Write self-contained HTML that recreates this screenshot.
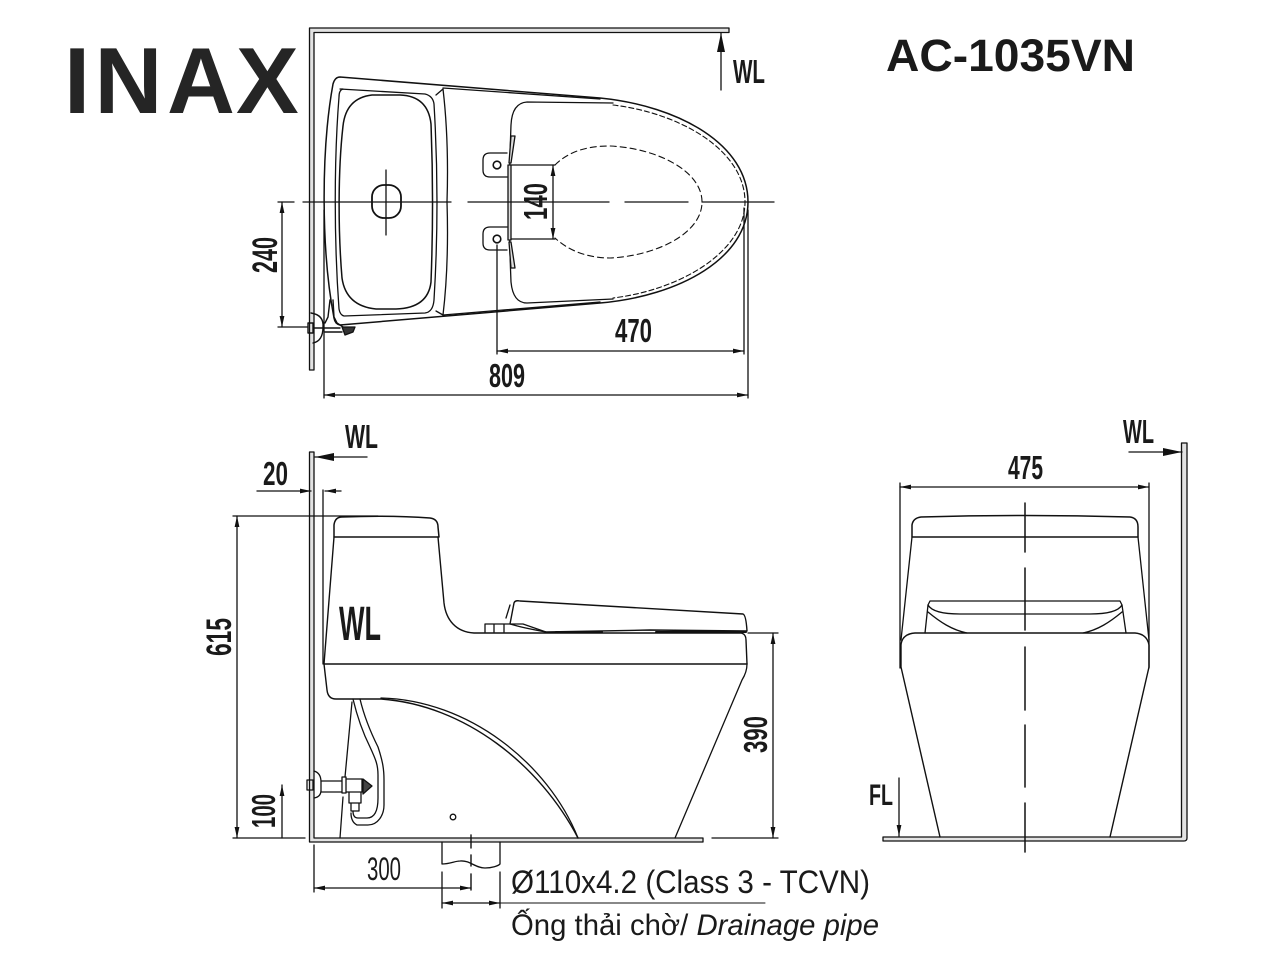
<!DOCTYPE html>
<html><head><meta charset="utf-8"><title>AC-1035VN</title>
<style>html,body{margin:0;padding:0;background:#fff}svg{display:block}text{font-family:"Liberation Sans",sans-serif;fill:#1a1a1a}</style></head>
<body>
<svg width="1280" height="960" viewBox="0 0 1280 960" xmlns="http://www.w3.org/2000/svg">
<defs>
<marker id="a" markerUnits="userSpaceOnUse" markerWidth="12" markerHeight="8" refX="11" refY="3" orient="auto-start-reverse"><path d="M0,0.6L11,3L0,5.4z" fill="#111"/></marker>
<marker id="b" markerUnits="userSpaceOnUse" markerWidth="20" markerHeight="10" refX="19" refY="4" orient="auto-start-reverse"><path d="M0,0L19,4L0,8z" fill="#111"/></marker>
</defs>
<rect width="1280" height="960" fill="#fff"/>

<!-- titles -->
<text x="64 94.5 167 236" y="113" font-size="94" font-weight="bold" style="fill:#252525">INAX</text>
<text x="886" y="71" font-size="45" font-weight="bold" textLength="249" lengthAdjust="spacingAndGlyphs">AC-1035VN</text>

<g fill="none" stroke="#111" stroke-width="1.3" stroke-linejoin="round" stroke-linecap="round">
<!-- TOP VIEW walls -->
<path d="M309.5,28H729V32.5H314V370H309.5Z" fill="#e2e2e2" stroke-width="1.3"/>
<path d="M721,90V33" marker-end="url(#b)"/>
<!-- body -->
<path d="M333,84Q335,77 340,77L600,98C680,106 748,145 748,202C748,258 680,296 600,303L340,325Q335,324 334,318C321,250 321,150 333,84Z" stroke-width="1.5"/>
<!-- tank -->
<path d="M340,89L425,94Q433,96 434,104C438,170 438,235 434,300Q433,312 425,313L344,316Q340,315 339,309C334,240 334,160 339,97Q339,90 343,89Z"/>
<path d="M372,95H400Q428,96 431,124C433,175 433,230 431,282Q428,308 396,309H376Q346,306 342,278C338,230 338,170 343,126Q346,98 372,95Z" stroke-width="1.5"/>
<path d="M436,95L443,89Q449,140 447,202Q449,265 443,315L436,311"/>
<path d="M443,88L600,99M443,315L600,302"/>
<!-- seat -->
<path d="M613,103L527,102Q512,103 511,125C509,175 509,235 511,282Q513,303 527,303L613,299"/>
<path d="M613,105C680,113 745,150 745,202C745,252 680,290 613,298" stroke-dasharray="5 3" stroke-width="1.1"/>
<path d="M555,165C570,150 590,146 610,146C655,148 702,170 702,202C702,234 655,256 610,258C590,258 570,252 555,238" stroke-dasharray="6 4" stroke-width="1.1"/>
<!-- hinges -->
<path d="M507,153H490Q483,153 483,160V170Q483,177 490,177H507M507,227H490Q483,227 483,234V243Q483,250 490,250H507"/>
<circle cx="497" cy="165" r="3.8" stroke-width="1.6"/><circle cx="497" cy="239" r="3.8" stroke-width="1.6"/>
<path d="M508,165H511V240H508Z" fill="#ddd"/>
<path d="M511,136L515,136L511,163L509,163ZM511,268L515,268L511,242L509,242Z" fill="#ddd"/>
<path d="M511,165H555M511,239H555"/>
<path d="M553,165V239" marker-start="url(#a)" marker-end="url(#a)"/>
<!-- center lines -->
<path d="M278,202H294M303,202H451M468,202H609M625,202H688M702,202H774M386,170V235"/>
<rect x="372" y="185" width="29" height="33" rx="12" stroke-width="1.8"/>
<!-- tap top -->
<path d="M311,313Q324,315 323,327Q323,341 313,343M308,323H313V333H308ZM313,328H340M330,300L328,317L325,323M333,300L334,317L337,323L343,327M325,332H342" stroke-width="1.4"/>
<path d="M342,327H355L353,332L345,335Z" fill="#333"/>
<!-- top dims -->
<path d="M282,202V327" marker-start="url(#a)" marker-end="url(#a)"/>
<path d="M278,327H308M497,245V354M744,208V354M324,210V398M748,210V398"/>
<path d="M497,351H744" marker-start="url(#a)" marker-end="url(#a)"/>
<path d="M324,395H748" marker-start="url(#a)" marker-end="url(#a)"/>

<!-- SIDE VIEW -->
<path d="M309.5,452H314V838H703V842H309.5Z" fill="#e2e2e2" stroke-width="1.3"/>
<path d="M367,457H315" marker-end="url(#b)"/>
<path d="M257,491H311" marker-end="url(#a)"/>
<path d="M341,491H325" marker-end="url(#a)"/>
<path d="M323,490V664"/>
<path d="M233,516H378M233,838H305"/>
<path d="M237,516V838" marker-start="url(#a)" marker-end="url(#a)"/>
<path d="M282,838V785" marker-end="url(#a)"/>
<!-- lid + tank -->
<path d="M334,537V525Q335,517 342,517Q390,515 430,518Q438,519 438,527L439,537Z" stroke-width="1.5"/>
<path d="M334,537L324,664M438,537L444,603C446,620 456,632 474,633H741Q746,634 746,640L747,664" stroke-width="1.4"/>
<path d="M324,664H747" stroke-width="1.4"/>
<path d="M324,664L327,690Q328,699 336,699H381C465,705 540,765 578,838" stroke-width="1.4"/>
<path d="M381,698C468,700 548,763 578,838"/>
<path d="M747,664Q747,672 742,680L675,838" stroke-width="1.3"/>
<path d="M352,702L345,777M343,797L340,838"/>
<!-- hose -->
<path d="M353,699C358,720 365,737 370,747C376,760 378,765 378,775V798C378,812 374,818 367,818H358Q353,818 353,811"/>
<path d="M360,699C365,720 373,737 378,747C383,762 384,770 384,780V805C384,815 378,825 368,825H357Q351,822 351,813"/>
<!-- valve -->
<path d="M314,771Q321,773 321,782V790Q321,797 314,798M307,780H313V790H307ZM321,781H342V792H321ZM342,777H346V793H342ZM346,779H362V792H346ZM349,792H361V803H349ZM351,803H359V811H351Z"/>
<path d="M363,779L372,786L363,794Z" fill="#444"/>
<circle cx="453" cy="817" r="2.8"/>
<!-- seat side -->
<path d="M510,624L514,603Q515,600 520,601L743,614Q746,615 747,631L650,630L546,632C535,630 520,627 510,624Z" stroke-width="1.4"/>
<path d="M485,632V624H504V632M494,624V632M504,624H523L546,632M506,618L510,605"/>
<path d="M556,632H602M656,632H746" stroke-width="2"/>
<!-- drain -->
<path d="M442,842V864C450,864 455,861 460,861C470,860 475,868 485,868C492,868 498,866 500,864V842"/>
<path d="M471,835V848M471,855V866M471,874V890" stroke-width="1.4"/>
<!-- side dims -->
<path d="M773,633V838" marker-start="url(#a)" marker-end="url(#a)"/>
<path d="M748,633H778M712,838H778"/>
<path d="M314,845V892M442,872V908M500,872V908"/>
<path d="M314,888H471" marker-start="url(#a)" marker-end="url(#a)"/>
<path d="M442,903H500" marker-start="url(#a)" marker-end="url(#a)"/>
<path d="M500,903H765" stroke-width="1"/>

<!-- FRONT VIEW -->
<path d="M1181.5,443H1187V838Q1187,841 1184,841H883V837H1181.5Z" fill="#e2e2e2" stroke-width="1.3"/>
<path d="M1129,452H1182" marker-end="url(#b)"/>
<path d="M900,487H1149" marker-start="url(#a)" marker-end="url(#a)"/>
<path d="M900,483V668M1149,483V668"/>
<path d="M1025,503V552M1025,568V630M1025,647V710M1025,725V787M1025,803V852" stroke-width="1.5"/>
<path d="M912,537V525Q913,518 921,517Q1025,514 1130,517Q1138,518 1138,527V537Z" stroke-width="1.5"/>
<path d="M912,537L901,640M1138,537L1149,640"/>
<path d="M930,601H1120L1122,605C1118,612 1105,614 1090,614H960C945,614 932,612 928,605Z"/>
<path d="M928,605L925,633M1122,605L1126,633M928,612C940,622 952,630 967,633M1122,612C1110,622 1098,630 1083,633"/>
<path d="M915,633H1135Q1147,634 1149,645V667L1110,837M915,633Q902,634 901,645V667L940,837" stroke-width="1.4"/>
<path d="M899,778V836" marker-end="url(#a)"/>
</g>

<!-- WL / FL labels -->
<g>
<text x="733" y="83" font-size="33" font-weight="bold" textLength="32" lengthAdjust="spacingAndGlyphs">WL</text>
<text x="345" y="448" font-size="33" font-weight="bold" textLength="33" lengthAdjust="spacingAndGlyphs">WL</text>
<text x="1123" y="443" font-size="33" font-weight="bold" textLength="31" lengthAdjust="spacingAndGlyphs">WL</text>
<text x="339" y="640" font-size="48" font-weight="bold" textLength="42" lengthAdjust="spacingAndGlyphs">WL</text>
<text x="869" y="805" font-size="30" font-weight="bold" textLength="24" lengthAdjust="spacingAndGlyphs">FL</text>

<text x="615" y="342" font-size="33" font-weight="bold" textLength="37" lengthAdjust="spacingAndGlyphs">470</text>
<text x="489" y="387" font-size="33" font-weight="bold" textLength="36" lengthAdjust="spacingAndGlyphs">809</text>
<text x="263" y="485" font-size="33" font-weight="bold" textLength="25" lengthAdjust="spacingAndGlyphs">20</text>
<text x="1008" y="479" font-size="33" font-weight="bold" textLength="35" lengthAdjust="spacingAndGlyphs">475</text>
<text x="367" y="880" font-size="32" textLength="34" lengthAdjust="spacingAndGlyphs">300</text>

<text transform="translate(277,273) rotate(-90)" font-size="35" font-weight="bold" textLength="36" lengthAdjust="spacingAndGlyphs">240</text>
<text transform="translate(547,220) rotate(-90)" font-size="33" font-weight="bold" textLength="37" lengthAdjust="spacingAndGlyphs">140</text>
<text transform="translate(231,656) rotate(-90)" font-size="35" font-weight="bold" textLength="38" lengthAdjust="spacingAndGlyphs">615</text>
<text transform="translate(275,828) rotate(-90)" font-size="33" font-weight="bold" textLength="34" lengthAdjust="spacingAndGlyphs">100</text>
<text transform="translate(767,753) rotate(-90)" font-size="33" font-weight="bold" textLength="37" lengthAdjust="spacingAndGlyphs">390</text>

<text x="511" y="893" font-size="32" textLength="359" lengthAdjust="spacingAndGlyphs">Ø110x4.2 (Class 3 - TCVN)</text>
<text x="511" y="935" font-size="30" textLength="368" lengthAdjust="spacingAndGlyphs" style="font-family:'Liberation Sans','Noto Sans CJK SC',sans-serif">Ống thải chờ/ <tspan font-style="italic">Drainage pipe</tspan></text>
</g>
</svg>
</body></html>
